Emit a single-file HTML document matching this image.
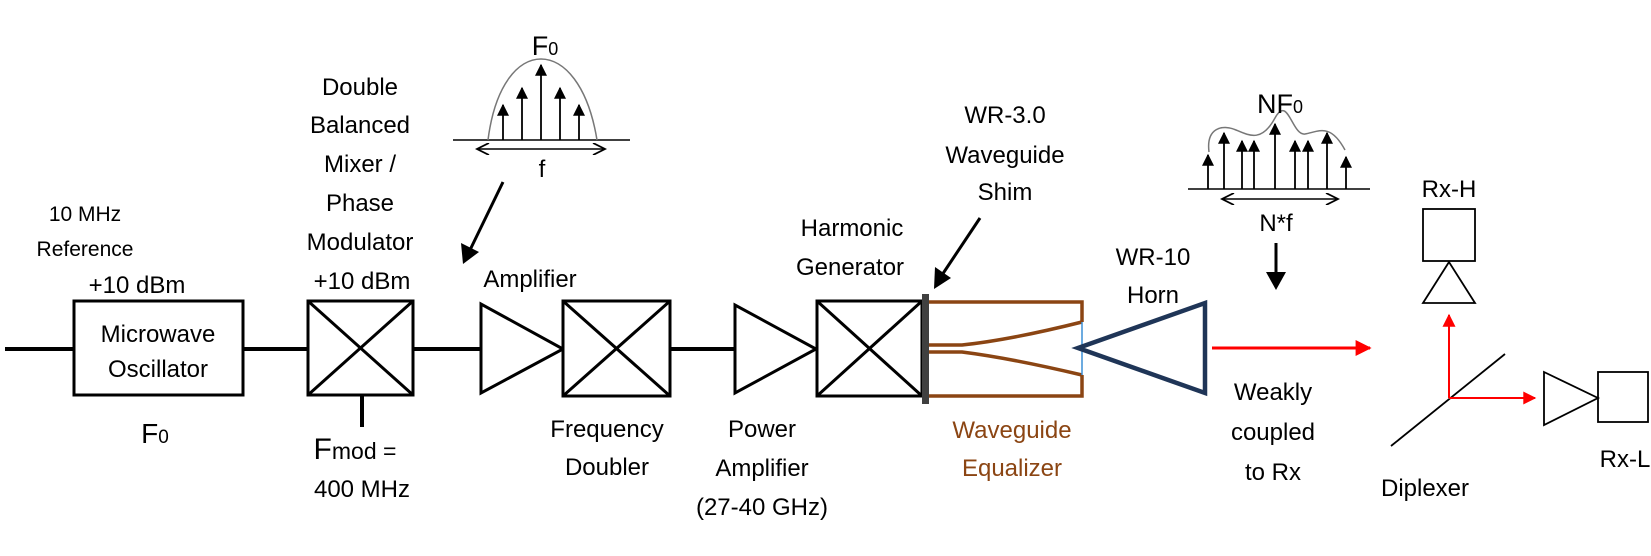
<!DOCTYPE html>
<html><head><meta charset="utf-8"><style>
html,body{margin:0;padding:0;background:#fff;}
svg{display:block;}
text{font-family:"Liberation Sans",sans-serif;font-size:24px;fill:#000;text-anchor:middle;}
</style></head><body>
<svg width="1651" height="556" viewBox="0 0 1651 556" xmlns="http://www.w3.org/2000/svg">
<defs>
<marker id="sa" viewBox="0 0 10 10" markerWidth="15" markerHeight="12" refX="9" refY="5" orient="auto" markerUnits="userSpaceOnUse"><path d="M0,0 L10,5 L0,10 z" fill="#000"/></marker>
<marker id="big" viewBox="0 0 10 10" markerWidth="18" markerHeight="18" refX="9" refY="5" orient="auto" markerUnits="userSpaceOnUse"><path d="M0,0 L10,5 L0,10 z" fill="#000"/></marker>
<marker id="red" viewBox="0 0 10 10" markerWidth="20" markerHeight="16" refX="9" refY="5" orient="auto" markerUnits="userSpaceOnUse"><path d="M0,0 L10,5 L0,10 z" fill="#f00"/></marker>
<marker id="red2" viewBox="0 0 10 10" markerWidth="16" markerHeight="13" refX="9" refY="5" orient="auto" markerUnits="userSpaceOnUse"><path d="M0,0 L10,5 L0,10 z" fill="#f00"/></marker>
<marker id="open" viewBox="0 0 10 10" markerWidth="16" markerHeight="12" refX="10" refY="5" orient="auto-start-reverse" markerUnits="userSpaceOnUse"><path d="M0,0 L10,5 L0,10" fill="none" stroke="#000" stroke-width="1.5"/></marker>
</defs>

<g stroke="#000" stroke-width="4">
<line x1="5" y1="349" x2="74" y2="349"/>
<line x1="243" y1="349" x2="308" y2="349"/>
<line x1="413" y1="349" x2="481" y2="349"/>
<line x1="670" y1="349" x2="735" y2="349"/>
<line x1="362" y1="395" x2="362" y2="427"/>
</g>
<g stroke="#000" stroke-width="3" fill="#fff">
<rect x="74" y="301" width="169" height="94"/>
<rect x="308" y="301" width="105" height="94"/>
<line x1="308" y1="301" x2="413" y2="395"/><line x1="413" y1="301" x2="308" y2="395"/>
<polygon points="481,304 481,393 563,349"/>
<rect x="563" y="301" width="107" height="95"/>
<line x1="563" y1="301" x2="670" y2="396"/><line x1="670" y1="301" x2="563" y2="396"/>
<polygon points="735,305 735,393 816,349"/>
<rect x="817" y="301" width="105" height="95"/>
<line x1="817" y1="301" x2="922" y2="396"/><line x1="922" y1="301" x2="817" y2="396"/>
</g>
<rect x="922" y="294" width="7" height="110" fill="#404040"/>

<g stroke="#8B4513" stroke-width="3.5" fill="none">
<path d="M929,302 L1082,302 L1082,322"/>
<path d="M929,345 L962,345 Q1010,340 1082,322"/>
<path d="M929,352 L962,352 Q1010,358 1082,375"/>
<path d="M1082,375 L1082,396 L929,396"/>
</g>
<line x1="1082" y1="322" x2="1082" y2="375" stroke="#3a8fd6" stroke-width="1.5"/>
<polygon points="1078,348 1205,303 1205,393" fill="none" stroke="#1f3557" stroke-width="4.5"/>
<line x1="1212" y1="348" x2="1370" y2="348" stroke="#f00" stroke-width="3" marker-end="url(#red)"/>

<g stroke="#000" stroke-width="1.8" fill="none">
<rect x="1423" y="209" width="52" height="52"/>
<polygon points="1449,262 1423,303 1475,303"/>
<line x1="1391" y1="446" x2="1505" y2="354"/>
<polygon points="1544,372 1544,425 1598,398"/>
<rect x="1598" y="372" width="50" height="50"/>
</g>
<line x1="1449" y1="398" x2="1449" y2="315" stroke="#f00" stroke-width="2" marker-end="url(#red2)"/>
<line x1="1449" y1="398" x2="1535" y2="398" stroke="#f00" stroke-width="2" marker-end="url(#red2)"/>

<line x1="453" y1="140" x2="630" y2="140" stroke="#000" stroke-width="1.5"/>
<path d="M488,140 C495,85 518,59 541,59 C564,59 588,85 597,140" fill="none" stroke="#777" stroke-width="1.5"/>
<g stroke="#000" stroke-width="1.8" marker-end="url(#sa)">
<line x1="503" y1="140" x2="503" y2="105"/>
<line x1="522" y1="140" x2="522" y2="88"/>
<line x1="541" y1="140" x2="541" y2="65"/>
<line x1="560" y1="140" x2="560" y2="88"/>
<line x1="579" y1="140" x2="579" y2="105"/>
</g>
<line x1="477" y1="149" x2="605" y2="149" stroke="#000" stroke-width="1.5" marker-start="url(#open)" marker-end="url(#open)"/>
<line x1="503" y1="182" x2="470" y2="250" stroke="#000" stroke-width="3"/>
<polygon points="463,264 461,243 479,252" fill="#000"/>

<line x1="1188" y1="189" x2="1370" y2="189" stroke="#000" stroke-width="1.5"/>
<path d="M1209,152 C1206,128 1222,124 1236,130 S1262,142 1275,118 S1292,136 1305,134 S1330,122 1345,150" fill="none" stroke="#777" stroke-width="1.5"/>
<g stroke="#000" stroke-width="1.8" marker-end="url(#sa)">
<line x1="1208" y1="189" x2="1208" y2="155"/>
<line x1="1224" y1="189" x2="1224" y2="133"/>
<line x1="1242" y1="189" x2="1242" y2="141"/>
<line x1="1254" y1="189" x2="1254" y2="141"/>
<line x1="1275" y1="189" x2="1275" y2="124"/>
<line x1="1295" y1="189" x2="1295" y2="141"/>
<line x1="1308" y1="189" x2="1308" y2="141"/>
<line x1="1327" y1="189" x2="1327" y2="133"/>
<line x1="1346" y1="189" x2="1346" y2="157"/>
</g>
<line x1="1222" y1="199" x2="1338" y2="199" stroke="#000" stroke-width="1.5" marker-start="url(#open)" marker-end="url(#open)"/>
<line x1="1276" y1="243" x2="1276" y2="275" stroke="#000" stroke-width="3"/>
<polygon points="1266,272 1286,272 1276,290" fill="#000"/>
<line x1="980" y1="218" x2="942" y2="275" stroke="#000" stroke-width="3"/>
<polygon points="934,289 935,267 951,278" fill="#000"/>

<text x="545" y="55" style="font-size:27px">F<tspan style="font-size:18px">0</tspan></text>
<text x="542" y="177">f</text>
<text x="1280" y="113" style="font-size:27px">NF<tspan style="font-size:18px">0</tspan></text>
<text x="1276" y="231">N*f</text>

<text x="85" y="221" style="font-size:21px">10 MHz</text>
<text x="85" y="256" style="font-size:21px">Reference</text>
<text x="137" y="293">+10 dBm</text>
<text x="158" y="342">Microwave</text>
<text x="158" y="377">Oscillator</text>
<text x="155" y="443" style="font-size:28px">F<tspan style="font-size:19px">0</tspan></text>

<text x="360" y="95">Double</text>
<text x="360" y="133">Balanced</text>
<text x="360" y="172">Mixer /</text>
<text x="360" y="211">Phase</text>
<text x="360" y="250">Modulator</text>
<text x="362" y="289">+10 dBm</text>
<text x="355" y="459" style="font-size:30px">F<tspan style="font-size:23px">mod =</tspan></text>
<text x="362" y="497">400 MHz</text>

<text x="530" y="287">Amplifier</text>
<text x="607" y="437">Frequency</text>
<text x="607" y="475">Doubler</text>
<text x="762" y="437">Power</text>
<text x="762" y="476">Amplifier</text>
<text x="762" y="515">(27-40 GHz)</text>
<text x="852" y="236">Harmonic</text>
<text x="850" y="275">Generator</text>
<text x="1005" y="123">WR-3.0</text>
<text x="1005" y="163">Waveguide</text>
<text x="1005" y="200">Shim</text>
<text x="1012" y="438" style="fill:#8B4513">Waveguide</text>
<text x="1012" y="476" style="fill:#8B4513">Equalizer</text>
<text x="1153" y="265">WR-10</text>
<text x="1153" y="303">Horn</text>
<text x="1273" y="400">Weakly</text>
<text x="1273" y="440">coupled</text>
<text x="1273" y="480">to Rx</text>
<text x="1425" y="496">Diplexer</text>
<text x="1449" y="197">Rx-H</text>
<text x="1625" y="467">Rx-L</text>
</svg>
</body></html>
